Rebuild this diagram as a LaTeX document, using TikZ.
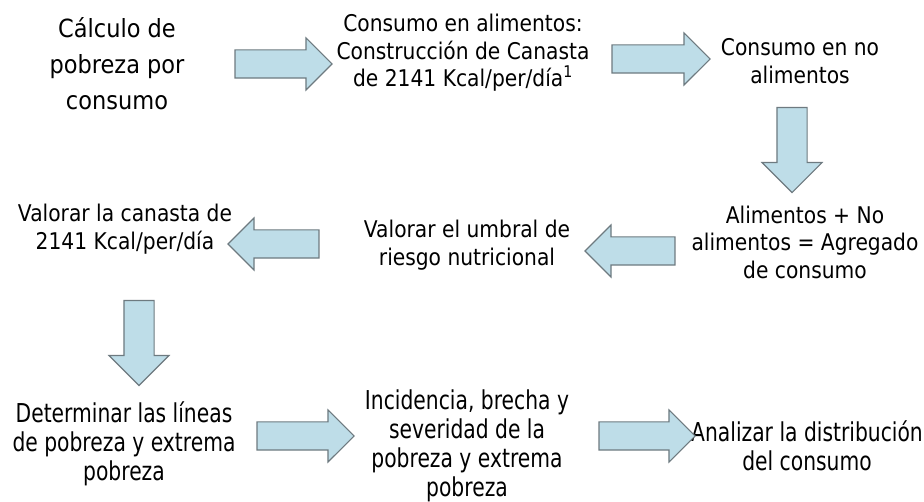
\documentclass[tikz,border=0pt]{standalone}
\usepackage{fontspec}
\setmainfont{DejaVu Sans}
\newfontfamily\tahomaish[FakeStretch=0.88]{DejaVu Sans}
\newfontfamily\titlefont[FakeStretch=0.9]{DejaVu Sans}
\newfontfamily\narrowfont[FakeStretch=0.78]{DejaVu Sans}
\usetikzlibrary{shapes.arrows,positioning}
\definecolor{flecha}{RGB}{190,221,232}
\definecolor{borde}{RGB}{110,122,128}

\begin{document}
\begin{tikzpicture}[x=1pt,y=1pt,
  paso/.style={align=center,font=\tahomaish\fontsize{23}{27.5}\selectfont},
  pasoabajo/.style={align=center,font=\narrowfont\fontsize{26}{29}\selectfont},
  titulo/.style={align=center,font=\titlefont\fontsize{25}{36}\selectfont},
  bloque/.style={single arrow,draw=borde,fill=flecha,line width=1.1pt,
    inner xsep=0pt,inner ysep=13.5pt,single arrow head extend=12pt},
  bajada/.style={bloque,rotate=-90,inner ysep=14.5pt,single arrow head extend=15pt}]
 	\useasboundingbox (0,0) rectangle (924,-502);
 	% primera fila
 	\node[titulo] (calc) at (117,-64) {C\'alculo de\\pobreza por\\consumo};
 	\node[paso] (alim) at (463,-53) {Consumo en alimentos:\\Construcci\'on de Canasta\\de 2141 Kcal/per/d\'ia\textsuperscript{1}};
 	\node[paso] (noalim) at (800,-61) {Consumo en no\\alimentos};
 	\node[bloque,minimum height=97pt] (f1) at (276.5,-64) {};
 	\node[bloque,minimum height=98pt] (f2) at (654,-59) {};
 	\node[bajada,minimum height=85pt] (f3) at (792,-142.5) {};
 	% segunda fila
 	\node[paso] (agreg) at (805,-242) {Alimentos + No\\alimentos = Agregado\\de consumo};
 	\node[paso] (umbral) at (467,-245) {Valorar el umbral de\\riesgo nutricional};
 	\node[paso] (valor) at (125,-229) {Valorar la canasta de\\2141 Kcal/per/d\'ia};
 	\node[bloque,minimum height=90pt,rotate=180] (f4) at (637,-251) {};
 	\node[bloque,minimum height=91pt,rotate=180] (f5) at (280.5,-244) {};
 	\node[bajada,minimum height=85pt] (f6) at (139,-335.5) {};
 	% tercera fila
 	\node[pasoabajo] (lineas) at (124,-444) {Determinar las l\'ineas\\de pobreza y extrema\\pobreza};
 	\node[pasoabajo] (incid) at (467,-446) {Incidencia, brecha y\\severidad de la\\pobreza y extrema\\pobreza};
 	\node[pasoabajo] (distr) at (807,-446) {Analizar la distribuci\'on\\del consumo};
 	\node[bloque,minimum height=97pt] (f7) at (298.5,-436) {};
 	\node[bloque,minimum height=96pt] (f8) at (640,-436) {};
\end{tikzpicture}
\end{document}
